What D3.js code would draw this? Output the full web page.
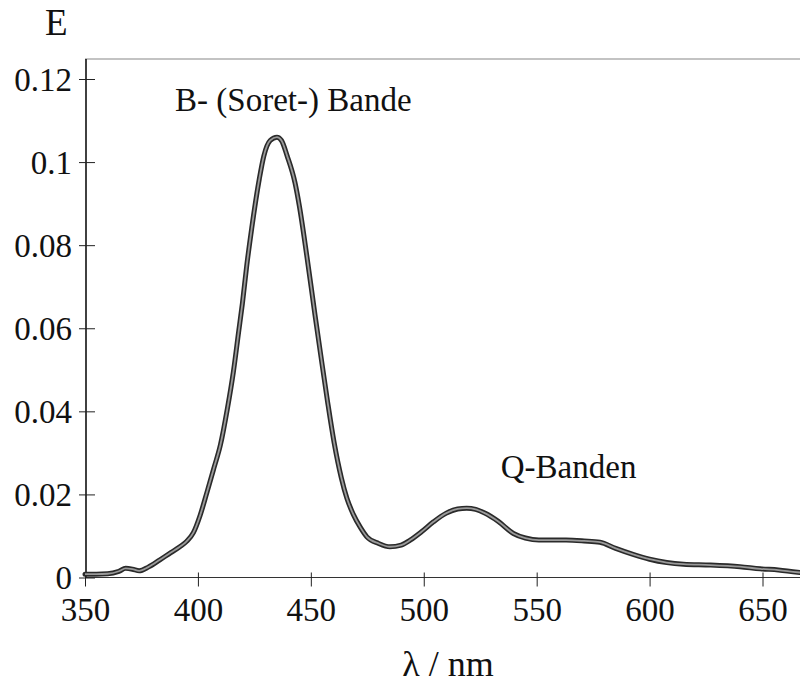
<!DOCTYPE html>
<html>
<head>
<meta charset="utf-8">
<script src="https://cdn.jsdelivr.net/npm/d3@7/dist/d3.min.js"></script>
<style>
  html, body { margin: 0; padding: 0; background: #fff; }
  svg { display: block; }
</style>
</head>
<body>
<svg id="chart" width="800" height="684"></svg>
<script>
// Absorption spectrum: wavelength (nm) and extinction E
const wavelength = [350, 355, 360, 365, 368, 371, 374, 378, 383, 388, 392, 395, 398, 401, 404, 407,
  410, 413, 415.7, 418, 419.7, 421.6, 423.8, 427.2, 429.2, 432, 435, 437, 439.5, 443, 444.9, 448.2,
  451.9, 454.4, 457.5, 460.3, 463.5, 466, 468.8, 472, 474.8, 480, 485, 490, 494, 499, 504.3,
  510, 515, 519, 523, 527, 533, 539.7, 545, 551, 563, 571, 578, 585, 593, 600, 607.6, 615,
  627, 640, 649, 657, 666.6];
const extinction = [0.0008, 0.0008, 0.0009, 0.0015, 0.0022, 0.0020, 0.0016, 0.0025, 0.0042, 0.0060, 0.0074, 0.0087, 0.0108, 0.0150, 0.0205, 0.0262,
  0.0320, 0.0405, 0.0495, 0.0590, 0.0660, 0.0750, 0.0840, 0.0960, 0.1015, 0.1052, 0.1060, 0.1052, 0.1015, 0.0950, 0.0895, 0.0775,
  0.0630, 0.0535, 0.0420, 0.0325, 0.0240, 0.0190, 0.0152, 0.0120, 0.0098, 0.0082, 0.0074, 0.0078, 0.0090, 0.0110, 0.0134,
  0.0155, 0.0165, 0.0167, 0.0164, 0.0155, 0.0135, 0.0106, 0.0095, 0.0090, 0.0090, 0.0088, 0.0085, 0.0070, 0.0055, 0.0044, 0.0036, 0.0032,
  0.0030, 0.0026, 0.0021, 0.0018, 0.0012];

const xTicks = [350, 400, 450, 500, 550, 600, 650];
const yTicks = [0, 0.02, 0.04, 0.06, 0.08, 0.1, 0.12];
const yTickLabels = ["0", "0.02", "0.04", "0.06", "0.08", "0.1", "0.12"];

const bandLabels = [
  { text: "B- (Soret-) Bande", nm: 389.9, value: 0.1123 },
  { text: "Q-Banden", nm: 534.1, value: 0.0239 }
];

const FONT = "Liberation Serif, DejaVu Serif, serif";

const svg = d3.select("#chart");
const x = d3.scaleLinear().domain([350, 666.6]).range([85, 800]);
const y = d3.scaleLinear().domain([0, 0.12]).range([577.5, 79]);

// frame line along the top of the plot area
svg.append("line")
  .attr("x1", x(350)).attr("x2", 800)
  .attr("y1", 59).attr("y2", 59)
  .attr("stroke", "#888").attr("stroke-width", 1.2);

// x axis
const gx = svg.append("g")
  .attr("transform", `translate(0,${y(0)})`)
  .call(d3.axisBottom(x).tickValues(xTicks).tickFormat(d3.format("d")).tickSizeOuter(0))
  .attr("font-family", FONT).attr("font-size", 33);
gx.select(".domain").attr("stroke", "#333").attr("stroke-width", 1.1)
  .attr("d", `M${x(350)},0H800`);
gx.selectAll(".tick line").attr("y1", -5).attr("y2", 9).attr("stroke", "#222");
gx.selectAll(".tick text")
  .attr("y", 43).attr("dy", 0)
  .attr("fill", "#111");

// y axis
const gy = svg.append("g")
  .attr("transform", `translate(${x(350) + 1},0)`)
  .call(d3.axisLeft(y).tickValues(yTicks).tickFormat((d, i) => yTickLabels[i]).tickSizeOuter(0))
  .attr("font-family", FONT).attr("font-size", 33);
gy.select(".domain").attr("stroke", "#111").attr("stroke-width", 1.6)
  .attr("d", `M0,59V${y(0)}`);
gy.selectAll(".tick line").attr("x1", -7).attr("x2", 9).attr("stroke", "#222");
gy.selectAll(".tick text")
  .attr("x", -14).attr("dy", "0.34em")
  .attr("fill", "#111");

// spectrum curve: dark outline with a grey core
const pts = wavelength.map((w, i) => [w, extinction[i]]);
const line = d3.line()
  .x(d => x(d[0])).y(d => y(d[1]))
  .curve(d3.curveMonotoneX);
svg.append("path").datum(pts)
  .attr("d", line).attr("fill", "none")
  .attr("stroke", "#2a2a2a").attr("stroke-width", 5)
  .attr("stroke-linejoin", "round").attr("stroke-linecap", "round");
svg.append("path").datum(pts)
  .attr("d", line).attr("fill", "none")
  .attr("stroke", "#9a9a9a").attr("stroke-width", 1.8)
  .attr("stroke-linejoin", "round");

// band annotations
svg.selectAll("text.band").data(bandLabels).enter().append("text")
  .attr("class", "band")
  .attr("x", d => x(d.nm)).attr("y", d => y(d.value))
  .attr("font-family", FONT).attr("font-size", 33).attr("fill", "#111")
  .text(d => d.text);

// axis titles
svg.append("text").attr("x", 45).attr("y", 35)
  .attr("font-family", FONT).attr("font-size", 37).attr("fill", "#111")
  .text("E");
svg.append("text").attr("x", 448).attr("y", 676)
  .attr("text-anchor", "middle")
  .attr("font-family", FONT).attr("font-size", 36).attr("fill", "#111")
  .text("λ / nm");
</script>
</body>
</html>
